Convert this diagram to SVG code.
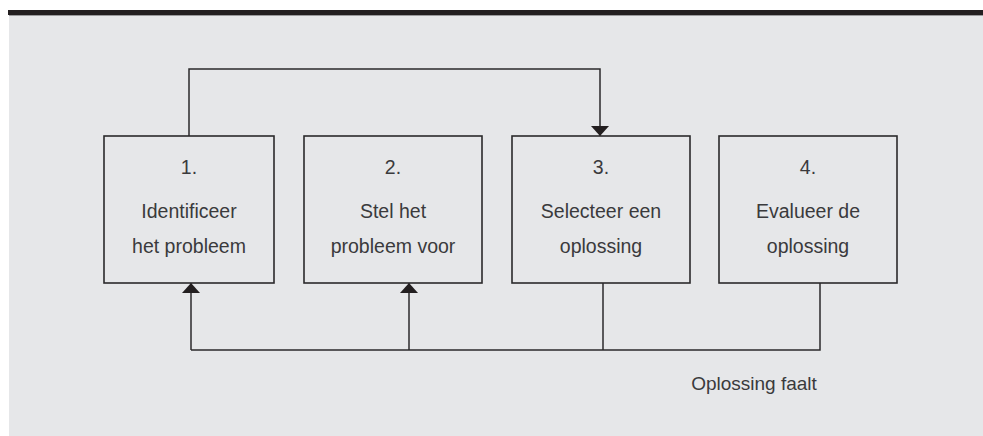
<svg xmlns="http://www.w3.org/2000/svg" width="983" height="436" viewBox="0 0 983 436">
  <defs>
    <style>
      .box { fill: none; stroke: #2b2a2b; stroke-width: 1.6; }
      .line { fill: none; stroke: #2b2a2b; stroke-width: 1.5; }
      .txt { font-family: "Liberation Sans", Arial, sans-serif; font-size: 19.5px; fill: #3a3a3c; text-anchor: middle; }
    </style>
    <marker id="arrow" markerUnits="userSpaceOnUse" markerWidth="12" markerHeight="20" refX="10" refY="9" orient="auto">
      <path d="M0,0 L10,9 L0,18 Z" fill="#231f20"/>
    </marker>
  </defs>
  <rect x="0" y="0" width="983" height="436" fill="#ffffff"/>
  <rect x="9" y="15" width="974" height="421" fill="#e6e7e9"/>
  <rect x="8" y="10" width="975" height="5" fill="#231f20"/>
  <rect x="9" y="15" width="974" height="1" fill="#9a9a9c"/>

  <g id="connectors">
    <path class="line" d="M189,136 V69 H600 V136" marker-end="url(#arrow)"/>
    <path class="line" d="M603,283 V350"/>
    <path class="line" d="M820,283 V350 H191"/>
    <path class="line" d="M191,350 V283" marker-end="url(#arrow)"/>
    <path class="line" d="M409,350 V283" marker-end="url(#arrow)"/>
  </g>

  <g id="node1">
    <rect class="box" x="104" y="136" width="170" height="147"/>
    <text class="txt" x="189" y="174">1.</text>
    <text class="txt" x="189" y="218">Identificeer</text>
    <text class="txt" x="189" y="253">het probleem</text>
  </g>
  <g id="node2">
    <rect class="box" x="304" y="136" width="178" height="147"/>
    <text class="txt" x="393" y="174">2.</text>
    <text class="txt" x="393" y="218">Stel het</text>
    <text class="txt" x="393" y="253">probleem voor</text>
  </g>
  <g id="node3">
    <rect class="box" x="512" y="136" width="178" height="147"/>
    <text class="txt" x="601" y="174">3.</text>
    <text class="txt" x="601" y="218">Selecteer een</text>
    <text class="txt" x="601" y="253">oplossing</text>
  </g>
  <g id="node4">
    <rect class="box" x="719" y="136" width="178" height="147"/>
    <text class="txt" x="808" y="174">4.</text>
    <text class="txt" x="808" y="218">Evalueer de</text>
    <text class="txt" x="808" y="253">oplossing</text>
  </g>
  <text class="txt" x="754" y="390" style="font-size:19px">Oplossing faalt</text>
</svg>
